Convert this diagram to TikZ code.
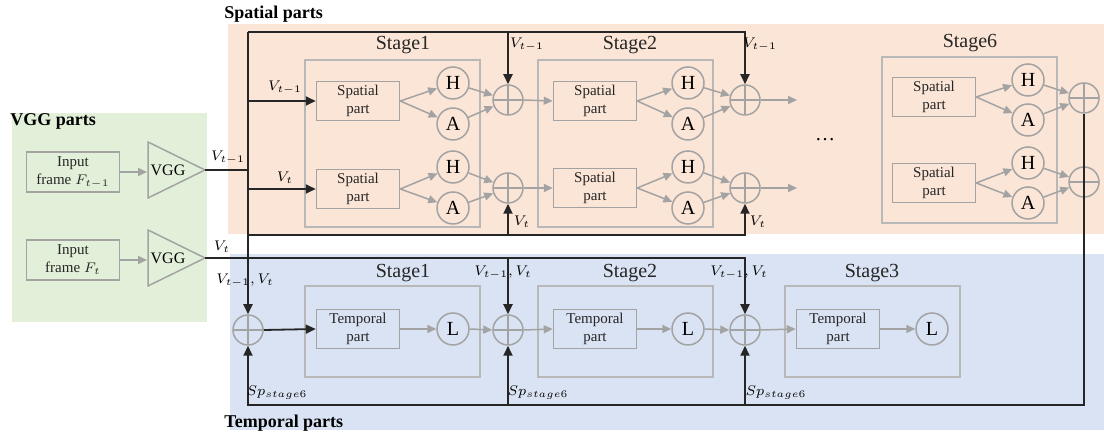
\documentclass[tikz,border=0pt]{standalone}
\usepackage{fontspec}
\setmainfont{Liberation Serif}
\usetikzlibrary{arrows.meta}
\definecolor{peach}{HTML}{FBE5D6}
\definecolor{bluebg}{HTML}{DAE3F3}
\definecolor{greenbg}{HTML}{E2F0D9}
\definecolor{gline}{HTML}{A3A3A3}
\definecolor{fline}{HTML}{B8B8B8}
\definecolor{dline}{HTML}{262626}
\begin{document}
\begin{tikzpicture}[x=0.5pt,y=-0.5pt,
  box/.style={draw=gline, line width=0.75pt, minimum width=41.5pt, minimum height=19.5pt, align=center, font=\fontsize{7.5}{9.2}\selectfont, inner sep=0pt, text=black!85},
  inbox/.style={box, minimum width=46.5pt, minimum height=20pt, font=\fontsize{7.5}{9}\selectfont},
  circ/.style={circle, draw=gline, line width=0.75pt, minimum size=16pt, inner sep=0pt, font=\fontsize{10}{10}\selectfont},
  oplus/.style={circle, draw=gline, line width=0.75pt, minimum size=15pt, inner sep=0pt, path picture={\draw[gline, line width=0.75pt] (path picture bounding box.north) -- (path picture bounding box.south) (path picture bounding box.west) -- (path picture bounding box.east);}},
  stageframe/.style={draw=fline, line width=0.6pt},
  title/.style={font=\fontsize{10}{10}\selectfont, text=black!85},
  glink/.style={draw=gline, line width=0.75pt, -{Triangle[length=4.5pt,width=4pt]}},
  blink/.style={draw=dline, line width=0.9pt},
  barrow/.style={blink, -{Triangle[length=5pt,width=4.5pt]}},
  lab/.style={font=\fontsize{7}{7}\selectfont, inner sep=1pt},
  partlabel/.style={font=\bfseries\fontsize{9}{9}\selectfont, anchor=west, inner sep=0pt},
  tri/.style={draw=gline, line width=0.75pt}
]
\useasboundingbox (0,0) rectangle (1104,437);
\fill[white] (0,0) rectangle (1104,437);
% region backgrounds
\fill[peach] (228,24) rectangle (1104,234);
\fill[bluebg] (230,254) rectangle (1104,430);
\fill[greenbg] (12,113) rectangle (207,322);
\node[partlabel] (lsp) at (224,14) {Spatial parts};
\node[partlabel] (lvgg) at (10,121) {VGG parts};
\node[partlabel] (ltp) at (224,423) {Temporal parts};

% VGG parts
\node[inbox] (in1) at (73,172) {Input\\frame $F_{t-1}$};
\node[inbox] (in2) at (73,260) {Input\\frame $F_t$};
\draw[tri] (148,142) -- (205,170) -- (148,198) -- cycle;
\draw[tri] (148,230) -- (205,258) -- (148,286) -- cycle;
\node[font=\fontsize{8}{8}\selectfont] (vgg1) at (168,170) {VGG};
\node[font=\fontsize{8}{8}\selectfont] (vgg2) at (168,258) {VGG};
\coordinate (vgg1in) at (147,172);
\coordinate (vgg2in) at (147,260);
\coordinate (vgg1tip) at (205,170);
\coordinate (vgg2tip) at (205,258);
\draw[glink] (in1.east) -- (vgg1in);
\draw[glink] (in2.east) -- (vgg2in);

% spatial stage frames
\draw[stageframe] (305,60) rectangle (480,227);
\draw[stageframe] (538,60) rectangle (713,227);
\draw[stageframe] (882,57) rectangle (1057,223);
\node[title] (st1) at (403,45) {Stage1};
\node[title] (st2) at (630,45) {Stage2};
\node[title] (st6) at (970,43) {Stage6};
\node[font=\fontsize{10}{10}\selectfont] (dots) at (825,140) {\dots};

% spatial nodes
\foreach \k/\bx/\cx/\ox/\ya/\yb/\ha/\aa/\hb/\ab/\oa/\ob in
  {1/358/453/508/101/189/83/124/167/208/100/188,
   2/595/688/745/101/188/83/124/167/208/100/188,
   6/934/1028/1084/97/183/80/120/163/203/98/182}{
  \node[box] (sb\k a) at (\bx,\ya) {Spatial\\part};
  \node[box] (sb\k b) at (\bx,\yb) {Spatial\\part};
  \node[circ] (h\k a) at (\cx,\ha) {H};
  \node[circ] (a\k a) at (\cx,\aa) {A};
  \node[circ] (h\k b) at (\cx,\hb) {H};
  \node[circ] (a\k b) at (\cx,\ab) {A};
  \node[oplus] (o\k a) at (\ox,\oa) {};
  \node[oplus] (o\k b) at (\ox,\ob) {};
  \draw[glink] (sb\k a.east) -- (h\k a);
  \draw[glink] (sb\k a.east) -- (a\k a);
  \draw[glink] (sb\k b.east) -- (h\k b);
  \draw[glink] (sb\k b.east) -- (a\k b);
  \draw[glink] (h\k a) -- (o\k a);
  \draw[glink] (a\k a) -- (o\k a);
  \draw[glink] (h\k b) -- (o\k b);
  \draw[glink] (a\k b) -- (o\k b);
}
\draw[glink] (o1a.east) -- (sb2a.west);
\draw[glink] (o1b.east) -- (sb2b.west);
\coordinate (out2a) at (797,100);
\coordinate (out2b) at (797,188);
\draw[glink] (o2a.east) -- (out2a);
\draw[glink] (o2b.east) -- (out2b);

% temporal stage frames
\draw[stageframe] (305,286) rectangle (480,377);
\draw[stageframe] (538,286) rectangle (713,377);
\draw[stageframe] (785,286) rectangle (960,377);
\node[title] (tt1) at (403,273) {Stage1};
\node[title] (tt2) at (630,273) {Stage2};
\node[title] (tt3) at (872,273) {Stage3};
\node[box] (tb1) at (358,329) {Temporal\\part};
\node[box] (tb2) at (595,329) {Temporal\\part};
\node[box] (tb3) at (838,329) {Temporal\\part};
\node[circ] (l1) at (453,329) {L};
\node[circ] (l2) at (688,329) {L};
\node[circ] (l3) at (932,329) {L};
\node[oplus] (to0) at (248,330) {};
\node[oplus] (to1) at (508,330) {};
\node[oplus] (to2) at (745,330) {};
\draw[barrow] (to0.east) -- (tb1.west);
\draw[glink] (tb1.east) -- (l1.west);
\draw[glink] (l1.east) -- (to1.west);
\draw[glink] (to1.east) -- (tb2.west);
\draw[glink] (tb2.east) -- (l2.west);
\draw[glink] (l2.east) -- (to2.west);
\draw[glink] (to2.east) -- (tb3.west);
\draw[glink] (tb3.east) -- (l3.west);

% black connectors
\coordinate (j1) at (248,170);
\coordinate (jtop) at (248,32);
\coordinate (jb) at (248,235);
\coordinate (bl) at (248,405);
\draw[blink] (vgg1tip) -- (j1);
\draw[barrow] (jtop) -- (to0.north);
\draw[barrow] (jtop) -| (o2a.north);
\draw[barrow] (o1a.north |- jtop) -- (o1a.north);
\draw[barrow] (sb1a.west -| jtop) -- (sb1a.west);
\draw[barrow] (sb1b.west -| jtop) -- (sb1b.west);
\draw[barrow] (jb) -| (o2b.south);
\draw[barrow] (o1b.south |- jb) -- (o1b.south);
\draw[barrow] (vgg2tip) -| (to2.north);
\draw[barrow] (to1.north |- vgg2tip) -- (to1.north);
\draw[barrow] (o6a.south) |- (bl) -- (to0.south);
\draw[barrow] (to1.south |- bl) -- (to1.south);
\draw[barrow] (to2.south |- bl) -- (to2.south);

% labels
\node[lab] (lv1) at (228,158) {$V_{t-1}$};
\node[lab] (lv2) at (222,247) {$V_t$};
\node[lab] (lv3) at (285,88) {$V_{t-1}$};
\node[lab] (lv4) at (285,178) {$V_t$};
\node[lab] (lv5) at (527,45) {$V_{t-1}$};
\node[lab] (lv6) at (760,45) {$V_{t-1}$};
\node[lab] (lv7) at (522,222) {$V_t$};
\node[lab] (lv8) at (758,222) {$V_t$};
\node[lab] (lt1) at (245,281) {$V_{t-1}, V_t$};
\node[lab] (lt2) at (503,273) {$V_{t-1}, V_t$};
\node[lab] (lt3) at (739,273) {$V_{t-1}, V_t$};
\node[lab] (ls1) at (277,393) {$Sp_{stage6}$};
\node[lab] (ls2) at (538,393) {$Sp_{stage6}$};
\node[lab] (ls3) at (776,393) {$Sp_{stage6}$};
\end{tikzpicture}
\end{document}
